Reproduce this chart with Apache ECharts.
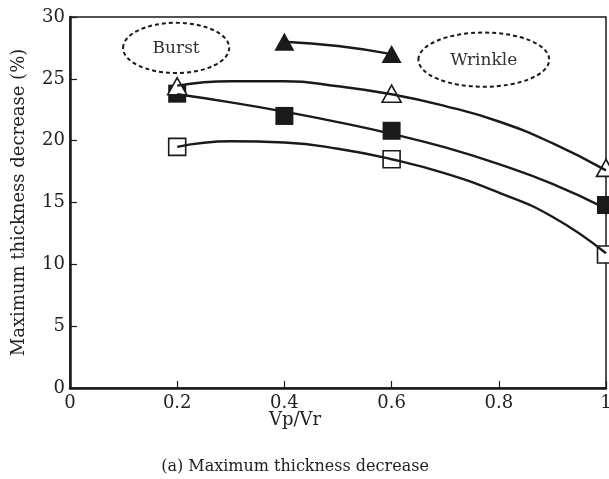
<!DOCTYPE html>
<html><head><meta charset="utf-8">
<script src="https://cdn.jsdelivr.net/npm/echarts@6/dist/echarts.min.js"></script>
<style>html,body{margin:0;padding:0;background:#fff}#c{width:609px;height:479px}</style>
</head><body><div id="c"></div>
<script>
// ---- data ----
const xTickValues = [0, 0.2, 0.4, 0.6, 0.8, 1];
const yTickValues = [0, 5, 10, 15, 20, 25, 30];

const filledTriX = [0.4, 0.6];
const filledTriY = [28.0, 27.0];
const openTriX = [0.2, 0.6, 1.0];
const openTriY = [24.4, 23.8, 17.8];
const filledSqX = [0.2, 0.4, 0.6, 1.0];
const filledSqY = [23.8, 22.0, 20.8, 14.8];
const openSqX = [0.2, 0.6, 1.0];
const openSqY = [19.5, 18.5, 10.8];

// trend curves
const filledTriCurveX = [0.4, 0.5, 0.6];
const filledTriCurveY = [28.0, 27.65, 27.0];
const openTriCurveX = [0.2, 0.3, 0.4, 0.5, 0.6, 0.7, 0.8, 0.9, 1.0];
const openTriCurveY = [24.45, 24.8, 24.8, 24.4, 23.75, 22.8, 21.55, 19.8, 17.6];
const filledSqCurveX = [0.2, 0.3, 0.4, 0.5, 0.6, 0.7, 0.8, 0.9, 1.0];
const filledSqCurveY = [23.75, 23.1, 22.35, 21.5, 20.55, 19.45, 18.1, 16.5, 14.5];
const openSqCurveX = [0.2, 0.3, 0.4, 0.5, 0.6, 0.7, 0.8, 0.9, 1.0];
const openSqCurveY = [19.5, 19.95, 19.85, 19.35, 18.5, 17.35, 15.8, 13.85, 10.9];

const annotations = [
  {text: 'Burst', x: 0.198, y: 27.5, rx: 0.099, ry: 2.03},
  {text: 'Wrinkle', x: 0.772, y: 26.55, rx: 0.122, ry: 2.19}
];

const xAxisName = 'Vp/Vr';
const yAxisName = 'Maximum thickness decrease (%)';
const caption = '(a) Maximum thickness decrease';

// ---- build ----
const zip = (xs, ys) => xs.map((x, i) => [x, ys[i]]);
const FONT = 'DejaVu Serif';
const INK = '#1a1a1a';

const chart = echarts.init(document.getElementById('c'), null, {renderer: 'canvas'});

function scatter(name, xs, ys, symbol, filled, size, z) {
  return {
    name, type: 'scatter', data: zip(xs, ys), symbol, symbolSize: size, z,
    clip: false,
    itemStyle: {color: filled ? INK : '#fff', borderColor: INK, borderWidth: filled ? 0 : 1.6, opacity: 1}
  };
}
function curve(xs, ys) {
  return {
    type: 'line', data: zip(xs, ys), smooth: 0.5, showSymbol: false, z: 5,
    lineStyle: {color: INK, width: 2.4}, silent: true
  };
}

const option = {
  animation: false,
  backgroundColor: '#fff',
  grid: {left: 70, top: 17, right: 3, bottom: 91, outerBoundsMode: 'none', containLabel: false,
    show: true, borderColor: INK, borderWidth: 1.5, backgroundColor: 'transparent'},
  title: [
    {text: xAxisName, left: 290, top: 406, textAlign: 'center',
     textStyle: {fontFamily: FONT, fontWeight: 'normal', fontSize: 18, color: '#222'}},
    {text: caption, left: 290, top: 454, textAlign: 'center',
     textStyle: {fontFamily: FONT, fontWeight: 'normal', fontSize: 16, color: '#222'}}
  ],
  xAxis: {
    type: 'value', min: 0, max: 1, interval: 0.2,
    axisLine: {show: true, lineStyle: {color: INK, width: 2.5}},
    axisTick: {show: true, inside: true, length: 7, lineStyle: {color: INK, width: 1.2}},
    splitLine: {show: false},
    axisLabel: {fontFamily: FONT, fontSize: 18, color: '#222', margin: 6,
      formatter: v => String(xTickValues.find(t => Math.abs(t - v) < 1e-9) ?? v)}
  },
  yAxis: {
    type: 'value', min: 0, max: 30, interval: 5,
    name: yAxisName, nameLocation: 'middle', nameGap: 42, nameRotate: 90,
    nameTextStyle: {fontFamily: FONT, fontSize: 18, color: '#222'},
    axisLine: {show: true, lineStyle: {color: INK, width: 2.5}},
    axisTick: {show: true, inside: true, length: 7, lineStyle: {color: INK, width: 1.2}},
    splitLine: {show: false},
    axisLabel: {fontFamily: FONT, fontSize: 18, color: '#222', margin: 5,
      formatter: v => String(yTickValues.find(t => t === v) ?? v)}
  },
  series: [
    scatter('filledSquare', filledSqX, filledSqY, 'rect', true, [18, 18], 2),
    scatter('openSquare', openSqX, openSqY, 'rect', false, [17, 17], 2),
    scatter('openTriangle', openTriX, openTriY, 'triangle', false, [19, 17], 3),
    scatter('filledTriangle', filledTriX, filledTriY, 'triangle', true, [20, 18], 3),
    curve(filledTriCurveX, filledTriCurveY),
    curve(openTriCurveX, openTriCurveY),
    curve(filledSqCurveX, filledSqCurveY),
    curve(openSqCurveX, openSqCurveY)
  ]
};
chart.setOption(option);

const graphics = [];
annotations.forEach(a => {
  const c = chart.convertToPixel({gridIndex: 0}, [a.x, a.y]);
  const e = chart.convertToPixel({gridIndex: 0}, [a.x + a.rx, a.y - a.ry]);
  graphics.push({
    type: 'ellipse', z: 10,
    shape: {cx: c[0], cy: c[1], rx: Math.abs(e[0] - c[0]), ry: Math.abs(e[1] - c[1])},
    style: {fill: null, stroke: INK, lineWidth: 2, lineDash: [4, 3]}
  });
  graphics.push({
    type: 'text', z: 10, x: c[0], y: c[1] + 1,
    style: {text: a.text, fill: '#333', font: '17px "' + FONT + '"', textAlign: 'center', textVerticalAlign: 'middle'}
  });
});
chart.setOption({graphic: graphics});
</script>
</body></html>
